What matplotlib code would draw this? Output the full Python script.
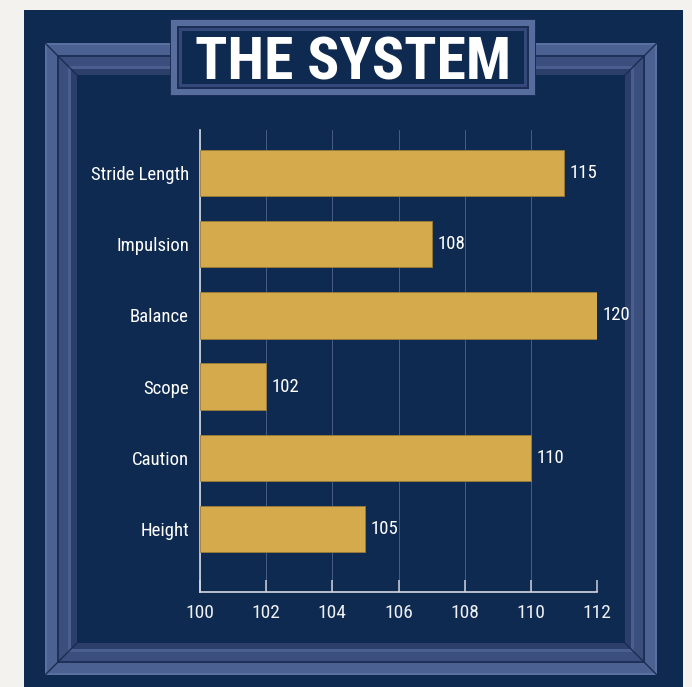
import matplotlib
matplotlib.use('Agg')
import matplotlib.pyplot as plt
from matplotlib.patches import Rectangle

categories = ['Stride Length', 'Impulsion', 'Balance', 'Scope', 'Caution', 'Height']
bar_ends = [111, 107, 112, 102, 110, 105]          # where the bars stop on the axis
value_labels = ['115', '108', '120', '102', '110', '105']  # numbers printed next to the bars
x_ticks = [100, 102, 104, 106, 108, 110, 112]
title = 'THE SYSTEM'

plt.rcParams['font.family'] = ['Roboto Condensed', 'DejaVu Sans']

W, H = 692, 687
navy = '#0f2a50'
gold = '#d4aa4d'
fig = plt.figure(figsize=(W / 100, H / 100), dpi=100)
fig.patch.set_facecolor('#f3f2ee')

# decoration layer in pixel coordinates
deco = fig.add_axes([0, 0, 1, 1])
deco.set_xlim(0, W)
deco.set_ylim(H, 0)
deco.axis('off')


def rect(ax, x0, y0, x1, y1, color, z=1):
    ax.add_patch(Rectangle((x0, y0), x1 - x0, y1 - y0, facecolor=color,
                           edgecolor='none', linewidth=0, zorder=z))


def bevel(ax, box, widths, colors, z=1):
    # nested rectangles give the picture-frame look
    x0, y0, x1, y1 = box
    d = 0
    for w, c in zip(widths, colors):
        rect(ax, x0 + d, y0 + d, x1 - d, y1 - d, c, z)
        d += w
    return d


rect(deco, 24, 10, 683, H, navy, 0)

# outer frame
frame = (45, 43, 657, 675)
d = bevel(deco, frame, [2, 10, 2, 9, 3, 6],
          ['#5a70a0', '#4b6192', '#1f3159', '#3a4f7d', '#4a5f8f', '#2c3f6a'], 1)
rect(deco, frame[0] + d, frame[1] + d, frame[2] - d, frame[3] - d, navy, 1)
# mitred corners
x0, y0, x1, y1 = frame
for (ax_, ay_), (bx, by) in [((x0, y0), (x0 + d, y0 + d)), ((x1, y0), (x1 - d, y0 + d)),
                             ((x0, y1), (x0 + d, y1 - d)), ((x1, y1), (x1 - d, y1 - d))]:
    deco.plot([ax_, bx], [ay_, by], color='#1a2c52', lw=1.0, zorder=2)

# title plate
tbox = (170, 19, 536, 96)
d2 = bevel(deco, tbox, [1, 6, 2, 3],
           ['#1c2e56', '#566d9e', '#1c2e56', '#34497a'], 3)
rect(deco, tbox[0] + d2, tbox[1] + d2, tbox[2] - d2, tbox[3] - d2, navy, 3)
deco.text((tbox[0] + tbox[2]) / 2, 79, title, ha='center', va='baseline',
          fontsize=43, fontweight='bold', color='white', zorder=4)

# chart
ax = fig.add_axes([200 / W, 1 - 592 / H, (597 - 200) / W, (592 - 130) / H])
ax.set_facecolor('none')
y = list(range(len(categories)))
lefts = [x_ticks[0]] * len(categories)
widths = [e - x_ticks[0] for e in bar_ends]
ax.barh(y, widths, left=lefts, height=0.65, color=gold, edgecolor='#9c7c38',
        linewidth=0.6, zorder=3)
for yi, e, lab in zip(y, bar_ends, value_labels):
    ax.annotate(lab, (e, yi), xytext=(4, 0), textcoords='offset points',
                ha='left', va='center', color='white', fontsize=13.5, zorder=4)

ax.set_xlim(x_ticks[0], x_ticks[-1])
ax.set_ylim(5.88, -0.6)
ax.set_xticks(x_ticks)
ax.set_xticklabels([str(t) for t in x_ticks])
ax.set_yticks(y)
ax.set_yticklabels(categories)
ax.xaxis.grid(True, color='#7f90b2', alpha=0.5, lw=0.7, zorder=0)
ax.tick_params(axis='x', direction='in', length=9, width=1.1, color='#c9cfdb',
               labelcolor='#eef0f4', labelsize=14, pad=9)
ax.tick_params(axis='y', length=0, labelcolor='white', labelsize=13.5, pad=8)
for s in ['top', 'right']:
    ax.spines[s].set_visible(False)
for s in ['left', 'bottom']:
    ax.spines[s].set_color('#d5d9e2')
    ax.spines[s].set_linewidth(1.2)

fig.savefig('out.png', dpi=100, facecolor=fig.get_facecolor())
